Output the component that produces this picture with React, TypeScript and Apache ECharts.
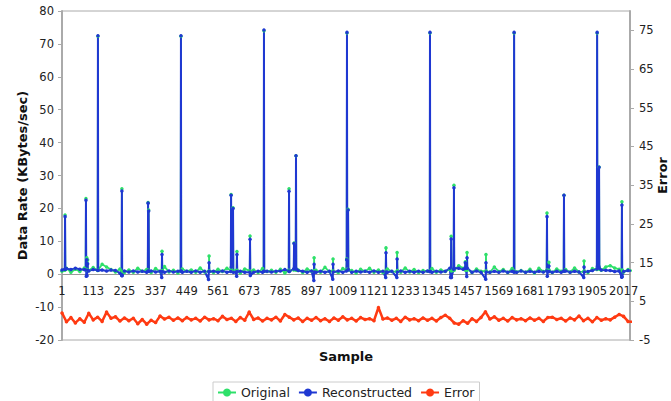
import React, { useEffect, useRef } from "react";
import * as echarts from "echarts";

// Sample spacing of the baseline readings (samples are 0-based; labels show index + 1)
const BASE_STEP = 16;
const X_MAX = 2039;
const X_TICK_STEP = 112;

// Baseline (between spikes) readings, one every BASE_STEP samples
const originalBase = [
  0.9, 1.8, 0.6, 1.5, 0.8, 1.9, 1.1, 2.0, 2.4, 3.0,
  2.2, 1.4, 0.7, 1.6, 0.5, 1.3, 0.6, 1.8, 0.9, 1.4,
  0.5, 1.7, 0.8, 2.3, 0.7, 1.2, 0.4, 1.6, 0.9, 1.3,
  0.6, 1.9, 0.7, 1.2, 0.5, 1.5, 0.8, 1.8, 0.6, 1.1,
  0.4, 1.6, 0.9, 1.3, 0.5, 1.7, 0.8, 1.2, 0.6, 1.5,
  0.4, 1.9, 0.7, 1.3, 0.5, 1.6, 0.9, 1.2, 0.6, 2.1,
  0.8, 1.4, 0.5, 1.7, 0.7, 1.1, 0.4, 1.5, 0.9, 1.8,
  0.6, 1.3, 0.5, 1.6, 0.8, 1.2, 0.6, 1.9, 0.7, 1.4,
  0.5, 1.1, 0.9, 1.7, 0.6, 1.3, 0.8, 1.5, 1.9, 2.6,
  1.8, 2.4, 0.5, 1.6, 0.9, 1.3, 0.6, 2.2, 0.8, 1.4,
  0.5, 1.7, 0.7, 1.1, 0.6, 1.5, 0.4, 1.8, 0.8, 1.2,
  0.5, 1.6, 0.9, 1.4, 0.6, 1.9, 0.7, 1.3, 0.5, 1.7,
  0.8, 1.2, 2.2, 2.6, 1.9, 1.5, 0.7, 1.4, 1.0,
];

const reconstructedBase = [
  1.3, 1.7, 1.4, 1.8, 1.5, 1.4, 1.0, 1.4, 1.1, 1.3,
  1.0, 1.3, 1.1, 0.3, 1.0, 0.7, 1.0, 0.7, 0.9, 0.6,
  1.0, 0.7, 0.9, 0.6, 1.0, 0.7, 0.9, 0.6, 0.9, 0.6,
  1.0, 0.6, 0.9, 0.7, 0.9, 0.6, 1.0, 0.6, 0.9, 0.6,
  0.9, 0.6, 1.0, 0.6, 0.9, 0.6, 0.9, 0.7, 0.9, 1.0,
  1.4, 1.9, 1.5, 1.1, 0.9, 0.6, 1.0, 0.6, 0.9, 0.6,
  0.9, 0.6, 1.0, 0.6, 0.9, 0.6, 0.9, 0.7, 0.9, 0.6,
  1.0, 0.6, 0.9, 0.6, 0.9, 0.6, 1.0, 0.6, 0.9, 0.6,
  0.9, 0.6, 1.0, 0.6, 0.9, 0.7, 0.9, 1.8, 2.1, 1.8,
  1.5, 0.9, 0.6, 1.0, 0.6, 0.9, 0.6, 0.9, 0.6, 1.0,
  0.6, 0.9, 0.6, 1.0, 0.6, 0.9, 0.6, 0.9, 0.7, 1.0,
  0.6, 0.9, 0.6, 1.0, 0.6, 0.9, 0.7, 1.0, 0.8, 1.1,
  0.8, 1.3, 1.2, 1.1, 0.8, 1.0, 0.8, 1.1, 1.0,
];

const errorBase = [
  2.0, -0.3, 0.8, -0.6, 0.5, -0.4, 1.9, 0.2, 0.9, -0.2,
  2.2, 0.6, 1.0, -0.1, 0.7, 0.0, 0.6, -0.8, 0.3, -0.9,
  0.1, -0.5, 1.2, 0.4, 0.9, 0.1, 0.7, 0.0, 0.8, 0.2,
  0.6, -0.1, 0.9, 0.2, 0.5, 0.0, 1.1, 0.3, 0.6, -0.2,
  0.8, 0.1, 2.2, 0.3, 0.7, -0.1, 0.6, 0.2, 0.9, -0.1,
  1.6, 0.9, 0.2, 0.7, -0.2, 0.6, 0.1, 0.8, 0.0, 0.5,
  -0.2, 0.7, 0.1, 1.0, 0.2, 0.6, -0.1, 0.8, 0.3, 0.5,
  0.0, 3.4, 0.4, 0.7, 0.1, 0.6, -0.2, 0.9, 0.2, 0.5,
  0.0, 0.7, 0.1, 0.6, -0.1, 0.8, 1.4, 0.6, -0.6, -0.9,
  0.0, -0.7, 0.5, -0.2, 0.8, 2.3, 0.4, 1.0, 0.1, 0.6,
  -0.1, 0.8, 0.2, 0.5, 0.0, 0.7, 0.1, 0.6, -0.2, 0.8,
  0.9, 0.3, 0.6, -0.1, 0.7, 0.2, 1.2, 0.0, 0.6, -0.3,
  0.8, 0.1, 0.5, 0.2, 0.9, 1.6, 1.1, -0.2, -0.3,
];

// Spikes: [sample, value] including the samples on each side
const originalSpikes: [number, number][] = [
  [10, 1.2], [11, 18.0], [12, 1.4],
  [85, 1.5], [86, 23.0], [87, 1.2], [89, 5.0], [90, 1.4], [92, 4.4], [93, 1.3],
  [128, 1.1], [129, 72.3], [130, 1.3],
  [214, 0.9], [215, 26.0], [216, 0.8],
  [308, 1.0], [309, 21.8], [310, 1.2], [311, 19.5], [312, 0.9],
  [358, 0.8], [359, 7.0], [360, 1.1],
  [426, 1.0], [427, 72.3], [428, 0.9],
  [527, 0.9], [528, 5.5], [529, 1.0],
  [606, 1.1], [607, 24.2], [608, 2.0], [614, 20.2], [615, 1.0],
  [627, 0.9], [628, 6.9], [629, 1.2],
  [674, 1.0], [675, 11.6], [676, 0.8],
  [724, 1.1], [725, 74.0], [726, 0.9],
  [814, 1.2], [815, 26.0], [816, 1.0],
  [832, 1.3], [833, 9.5], [834, 1.6], [839, 1.4], [840, 36.0], [841, 1.2],
  [904, 0.9], [905, 5.0], [906, 1.1],
  [972, 1.0], [973, 4.6], [974, 0.8],
  [1021, 1.2], [1022, 4.6], [1023, 73.3], [1024, 1.5], [1027, 19.7], [1028, 1.3],
  [1162, 1.0], [1163, 8.0], [1164, 0.9],
  [1202, 0.8], [1203, 6.6], [1204, 1.1],
  [1320, 1.0], [1321, 73.3], [1322, 0.9],
  [1396, 1.2], [1397, 11.5], [1398, 1.0], [1406, 1.4], [1407, 27.0], [1408, 1.2],
  [1447, 1.3], [1448, 3.8], [1449, 1.5], [1453, 1.2], [1454, 6.6], [1455, 1.4],
  [1521, 0.9], [1522, 6.0], [1523, 1.0],
  [1622, 1.0], [1623, 73.3], [1624, 0.9],
  [1740, 1.1], [1741, 18.6], [1742, 1.3], [1748, 3.6], [1749, 1.2],
  [1801, 1.0], [1802, 24.0], [1803, 0.9],
  [1873, 0.8], [1874, 4.0], [1875, 1.0],
  [1920, 1.4], [1921, 73.3], [1922, 2.0], [1927, 2.2], [1928, 32.6], [1929, 1.5],
  [2009, 1.1], [2010, 22.0], [2011, 1.3],
];

const reconstructedSpikes: [number, number][] = [
  [10, 1.5], [11, 17.5], [12, 1.5],
  [85, 1.3], [86, 22.5], [87, -0.6], [89, 4.4], [90, -0.5], [92, 3.2], [93, 1.2],
  [128, 1.2], [129, 72.5], [130, 1.2],
  [214, -0.4], [215, 25.3], [216, -0.5],
  [308, 0.9], [309, 21.6], [310, 1.0], [311, 19.2], [312, 0.9],
  [358, -1.0], [359, 6.0], [360, 0.8],
  [426, 1.0], [427, 72.5], [428, 1.0],
  [526, -1.6], [527, 0.8], [528, 3.5], [529, 0.8],
  [606, 0.8], [607, 24.0], [608, 2.2], [614, 20.0], [615, 0.6],
  [627, -0.6], [628, 6.0], [629, 0.8],
  [674, 0.6], [675, 10.6], [676, -0.4],
  [724, 0.9], [725, 74.2], [726, 0.9],
  [814, 1.0], [815, 25.2], [816, 0.8],
  [832, 1.6], [833, 9.3], [834, 1.8], [839, 1.8], [840, 36.0], [841, 1.5],
  [904, -1.9], [905, 3.0], [906, 0.7],
  [972, -1.5], [973, 3.0], [974, 0.7],
  [1021, 1.0], [1022, 4.4], [1023, 73.5], [1024, 1.2], [1027, 19.5], [1028, 1.4],
  [1162, -1.0], [1163, 6.5], [1164, 0.7],
  [1202, -1.0], [1203, 4.6], [1204, 0.7],
  [1320, 0.8], [1321, 73.5], [1322, 0.8],
  [1395, -1.0], [1396, -0.8], [1397, 10.7], [1398, -1.0], [1406, 1.5], [1407, 26.3], [1408, 1.8],
  [1447, 1.8], [1448, 3.5], [1449, 1.9], [1453, -0.7], [1454, 5.0], [1455, 1.8],
  [1521, -1.5], [1522, 3.5], [1523, 0.7],
  [1622, 0.7], [1623, 73.5], [1624, 0.7],
  [1740, 1.0], [1741, 17.5], [1742, -0.6], [1748, 2.5], [1749, 0.8],
  [1801, 1.0], [1802, 24.0], [1803, 1.0],
  [1873, -1.0], [1874, 2.2], [1875, 0.7],
  [1920, 1.6], [1921, 73.5], [1922, 2.4], [1927, 2.4], [1928, 32.5], [1929, 1.8],
  [2009, -0.9], [2010, 21.0], [2011, -0.8],
];

const seriesNames = ["Original", "Reconstructed", "Error"];
const leftAxisTitle = "Data Rate (KBytes/sec)";
const rightAxisTitle = "Error";
const xAxisTitle = "Sample";

function buildPoints(base: number[], spikes: [number, number][]): [number, number][] {
  const spikeXs = spikes.map((p) => p[0]);
  const pts: [number, number][] = base
    .map((v, i) => [i * BASE_STEP, v] as [number, number])
    .filter(([x]) => !spikeXs.some((s) => Math.abs(s - x) <= 2));
  return pts.concat(spikes).sort((a, b) => a[0] - b[0]);
}

const FONT = "DejaVu Sans, Verdana, sans-serif";
const GREEN = "#2ee06a";
const BLUE = "#1f38d2";
const RED = "#ff3a12";

const GRID_TOP = 11;
const GRID_BOTTOM = 61;
const CHART_H = 401;
const LEFT_MIN = -20;
const LEFT_MAX = 80;

export default function App() {
  const ref = useRef<HTMLDivElement>(null);
  useEffect(() => {
    if (!ref.current) return;
    const chart = echarts.init(ref.current, undefined, { renderer: "svg" });
    const axisLabelStyle = { color: "#222", fontSize: 11.5, fontFamily: FONT };
    const nameStyle = { fontWeight: "bold", fontSize: 13, color: "#111", fontFamily: FONT };
    // distance from the plot bottom up to the zero line of the left axis
    const plotH = CHART_H - GRID_TOP - GRID_BOTTOM;
    const zeroOffset = (plotH * (0 - LEFT_MIN)) / (LEFT_MAX - LEFT_MIN);
    chart.setOption({
      animation: false,
      backgroundColor: "#fff",
      textStyle: { fontFamily: FONT },
      grid: {
        left: 62,
        right: 41,
        top: GRID_TOP,
        bottom: GRID_BOTTOM,
        containLabel: false,
        outerBoundsMode: "none",
        show: true,
        borderColor: "#aaa",
        borderWidth: 1,
        backgroundColor: "#fff",
      },
      legend: {
        data: seriesNames,
        left: 213,
        top: 382,
        padding: [4, 5, 6, 4],
        itemWidth: 18,
        itemHeight: 10,
        itemGap: 8,
        borderColor: "#ccc",
        borderWidth: 1,
        textStyle: { fontSize: 12.5, color: "#222", fontFamily: FONT },
      },
      xAxis: {
        type: "value",
        min: 0,
        max: X_MAX,
        interval: X_TICK_STEP,
        position: "bottom",
        offset: -zeroOffset,
        name: xAxisTitle,
        nameLocation: "middle",
        nameGap: 76,
        nameMoveOverlap: false,
        nameTextStyle: nameStyle,
        axisLine: { show: true, onZero: false, lineStyle: { color: "#999", width: 1 } },
        axisTick: { show: false },
        splitLine: { show: false },
        axisLabel: {
          ...axisLabelStyle,
          margin: 11,
          showMaxLabel: false,
          formatter: (v: number) => String(v + 1),
        },
      },
      yAxis: [
        {
          type: "value",
          min: LEFT_MIN,
          max: LEFT_MAX,
          interval: 10,
          position: "left",
          name: leftAxisTitle,
          nameLocation: "middle",
          nameGap: 33,
          nameMoveOverlap: false,
          nameTextStyle: nameStyle,
          axisLine: { show: true, onZero: false, lineStyle: { color: "#aaa", width: 2 } },
          axisTick: { show: true, length: 4, lineStyle: { color: "#aaa" } },
          splitLine: { show: false },
          axisLabel: { ...axisLabelStyle, margin: 8 },
        },
        {
          type: "value",
          min: -5,
          max: 80,
          interval: 10,
          position: "right",
          name: rightAxisTitle,
          nameLocation: "middle",
          nameGap: 26,
          nameMoveOverlap: false,
          nameTextStyle: nameStyle,
          axisLine: { show: true, onZero: false, lineStyle: { color: "#aaa", width: 2 } },
          axisTick: { show: true, length: 4, lineStyle: { color: "#aaa" } },
          splitLine: { show: false },
          axisLabel: { ...axisLabelStyle, margin: 9, showMaxLabel: false },
        },
      ],
      series: [
        {
          name: seriesNames[0],
          type: "line",
          yAxisIndex: 0,
          data: buildPoints(originalBase, originalSpikes),
          symbol: "circle",
          symbolSize: 3.5,
          lineStyle: { color: GREEN, width: 1.8 },
          itemStyle: { color: GREEN },
        },
        {
          name: seriesNames[1],
          type: "line",
          yAxisIndex: 0,
          data: buildPoints(reconstructedBase, reconstructedSpikes),
          symbol: "circle",
          symbolSize: 3.5,
          lineStyle: { color: BLUE, width: 2 },
          itemStyle: { color: BLUE },
        },
        {
          name: seriesNames[2],
          type: "line",
          yAxisIndex: 1,
          data: buildPoints(errorBase, []),
          symbol: "circle",
          symbolSize: 3.5,
          lineStyle: { color: RED, width: 2.5 },
          itemStyle: { color: RED },
        },
      ],
    });
    return () => chart.dispose();
  }, []);
  return (
    <div
      ref={ref}
      style={{ position: "fixed", left: 0, top: 0, width: 671, height: 401, background: "#fff" }}
    />
  );
}
